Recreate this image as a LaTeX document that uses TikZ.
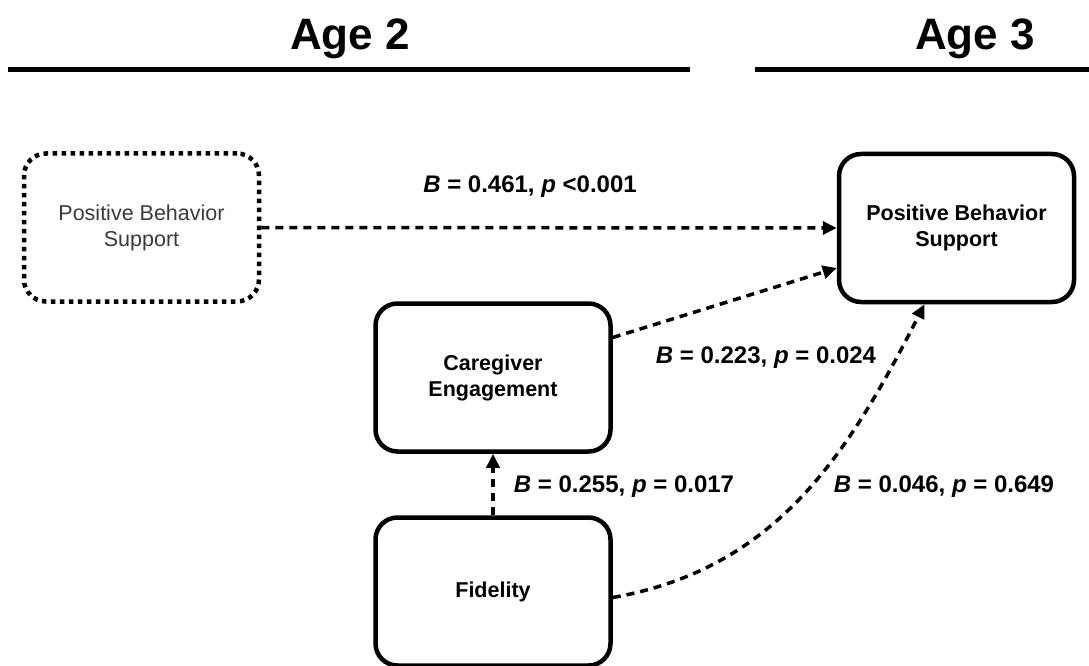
\documentclass[tikz,border=0pt]{standalone}
\usepackage{fontspec}
\setmainfont{Liberation Sans}
\usepackage{tikz}
\usetikzlibrary{arrows.meta}
\definecolor{softtext}{HTML}{3A3A3A}

\tikzset{
	varbox/.style={draw, line width=4.5pt, rounded corners=22pt, minimum width=235pt, minimum height=148pt, align=center, font=\fontsize{21.5}{26}\selectfont\bfseries},
	priorbox/.style={varbox, dash pattern=on 4.5pt off 4.5pt, font=\fontsize{21.5}{26}\selectfont, text=softtext},
	path/.style={line width=3.5pt, dash pattern=on 8pt off 6pt, -{Triangle[length=14pt, width=13pt]}},
	coef/.style={font=\fontsize{24}{28}\selectfont\bfseries},
	age/.style={font=\fontsize{44}{50}\selectfont\bfseries}
}

\begin{document}
\begin{tikzpicture}[x=1pt, y=1pt]
\useasboundingbox (0, 0) rectangle (1089, 665);

\node[age] (agetwo) at (350, 626) {Age 2};
\node[age] (agethree) at (975, 626) {Age 3};
\draw[line width=5pt] (8, 595) -- (690, 595);
\draw[line width=5pt] (755, 595) -- (1089, 595);

\node[priorbox] (pbsprior) at (141.5, 437.5) {Positive Behavior\\Support};
\node[varbox] (pbs) at (956.5, 437) {Positive Behavior\\Support};
\node[varbox] (care) at (493, 287.5) {Caregiver\\Engagement};
\node[varbox] (fid) at (493, 73.5) {Fidelity};

\draw[path] (pbsprior.east) -- (pbs.west);
\draw[path] ([yshift=40pt]care.east) -- ([yshift=-40pt]pbs.west);
\draw[path] (fid.north) -- (care.south);
\draw[path] ([yshift=-6pt]fid.east) to[out=10, in=-117] ([xshift=-32pt]pbs.south);

\node[coef] (bstab) at (530, 478) {\textit{B} = 0.461, \textit{p} <0.001};
\node[coef] (bcare) at (766, 307) {\textit{B} = 0.223, \textit{p} = 0.024};
\node[coef] (bfid) at (624, 178) {\textit{B} = 0.255, \textit{p} = 0.017};
\node[coef] (bdirect) at (944, 178) {\textit{B} = 0.046, \textit{p} = 0.649};
\end{tikzpicture}
\end{document}
